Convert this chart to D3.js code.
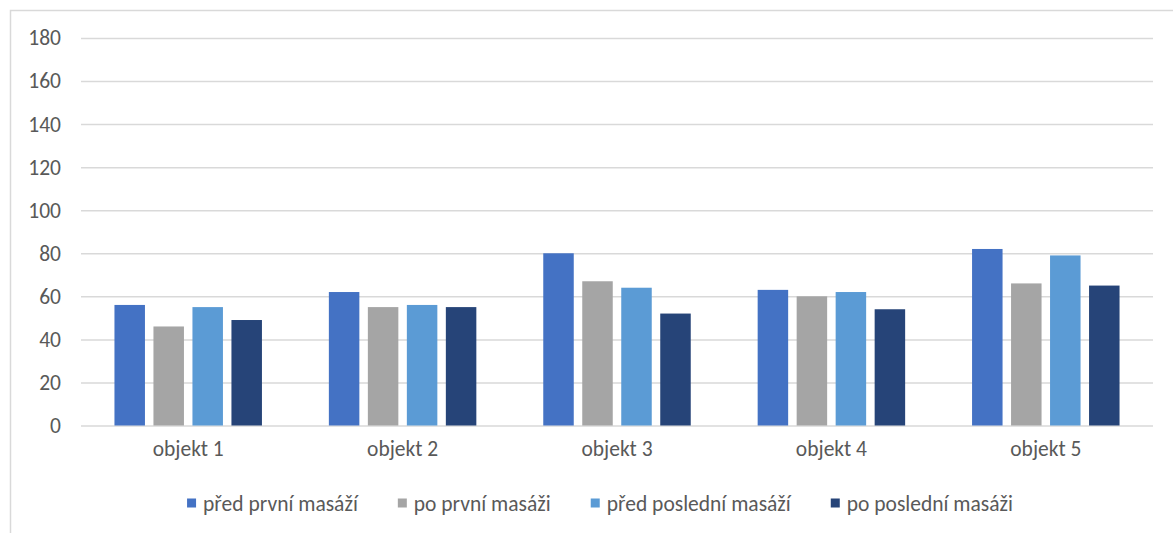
<!DOCTYPE html>
<html>
<head>
<meta charset="utf-8">
<script src="https://cdn.jsdelivr.net/npm/d3@7"></script>
<style>
  html, body { margin: 0; padding: 0; background: #fff; }
  svg { display: block; }
  text { font-family: Carlito, Calibri, "Liberation Sans", Arial, sans-serif; fill: #595959; }
</style>
</head>
<body>
<svg id="chart" width="1173" height="533"></svg>
<script>
// Measurements per object, four moments of the massage series
const categories = ["objekt 1", "objekt 2", "objekt 3", "objekt 4", "objekt 5"];
const seriesNames = ["před první masáží", "po první masáži", "před poslední masáží", "po poslední masáži"];
const predPrvni    = [56, 62, 80, 63, 82];
const poPrvni      = [46, 55, 67, 60, 66];
const predPosledni = [55, 56, 64, 62, 79];
const poPosledni   = [49, 55, 52, 54, 65];
const yTicks = [0, 20, 40, 60, 80, 100, 120, 140, 160, 180];
const colors = ["#4472C4", "#A5A5A5", "#5B9BD5", "#264478"];

const seriesValues = [predPrvni, poPrvni, predPosledni, poPosledni];
const rows = categories.map((c, i) => ({
  category: c,
  values: seriesNames.map((s, k) => ({ series: s, value: seriesValues[k][i], color: colors[k] }))
}));

const fontSize = 21.5;
const fontFamily = "Carlito, Calibri, 'Liberation Sans', Arial, sans-serif";
const svg = d3.select("#chart");
const plot = { left: 81, right: 1153, top: 38, bottom: 425.5 };

// chart frame (only its top and left edges fall inside the page)
svg.append("rect")
  .attr("x", 10.5).attr("y", 10.5)
  .attr("width", 1300).attr("height", 700)
  .attr("fill", "none").attr("stroke", "#d9d9d9").attr("stroke-width", 1.5);

const y = d3.scaleLinear().domain([0, 180]).range([plot.bottom, plot.top]);
const x0 = d3.scaleBand().domain(categories).range([plot.left, plot.right]).paddingInner(0).paddingOuter(0);
const x1 = d3.scaleBand().domain(seriesNames).range([0, x0.bandwidth()])
  .paddingInner(0.218).paddingOuter(0.858);

// gridlines and value axis
const yAxis = d3.axisLeft(y).tickValues(yTicks).tickSize(-(plot.right - plot.left)).tickPadding(20);
const gy = svg.append("g").attr("transform", `translate(${plot.left},0)`).call(yAxis);
gy.select(".domain").remove();
gy.selectAll(".tick line").attr("stroke", "#d9d9d9").attr("stroke-width", 1.5);
gy.selectAll(".tick text").attr("font-size", fontSize).style("fill", "#595959")
  .attr("font-family", fontFamily);

// bars
const groups = svg.append("g").selectAll("g")
  .data(rows).join("g")
  .attr("transform", d => `translate(${x0(d.category)},0)`);
groups.selectAll("rect")
  .data(d => d.values).join("rect")
  .attr("x", d => x1(d.series))
  .attr("width", x1.bandwidth())
  .attr("y", d => y(d.value))
  .attr("height", d => y(0) - y(d.value))
  .attr("fill", d => d.color);

// category axis
const xAxis = d3.axisBottom(x0).tickSize(0).tickPadding(15);
const gx = svg.append("g").attr("transform", `translate(0,${plot.bottom})`).call(xAxis);
gx.select(".domain").remove();
gx.selectAll(".tick text").attr("font-size", fontSize).style("fill", "#595959")
  .attr("font-family", fontFamily);

// legend
const legend = svg.append("g");
const items = legend.selectAll("g").data(seriesNames).join("g");
items.append("rect").attr("width", 9).attr("height", 9).attr("y", -4.5)
  .attr("fill", (d, i) => colors[i]);
items.append("text").attr("x", 16).attr("dy", "0.35em").attr("font-size", fontSize).text(d => d);
const gap = 40;
const offsets = [];
let cursor = 0;
items.each(function () {
  const w = d3.select(this).select("text").node().getComputedTextLength() + 16;
  offsets.push(cursor);
  cursor += w + gap;
});
const total = cursor - gap;
const start = 600 - total / 2;
items.attr("transform", (d, i) => `translate(${start + offsets[i]},503)`);
</script>
</body>
</html>
